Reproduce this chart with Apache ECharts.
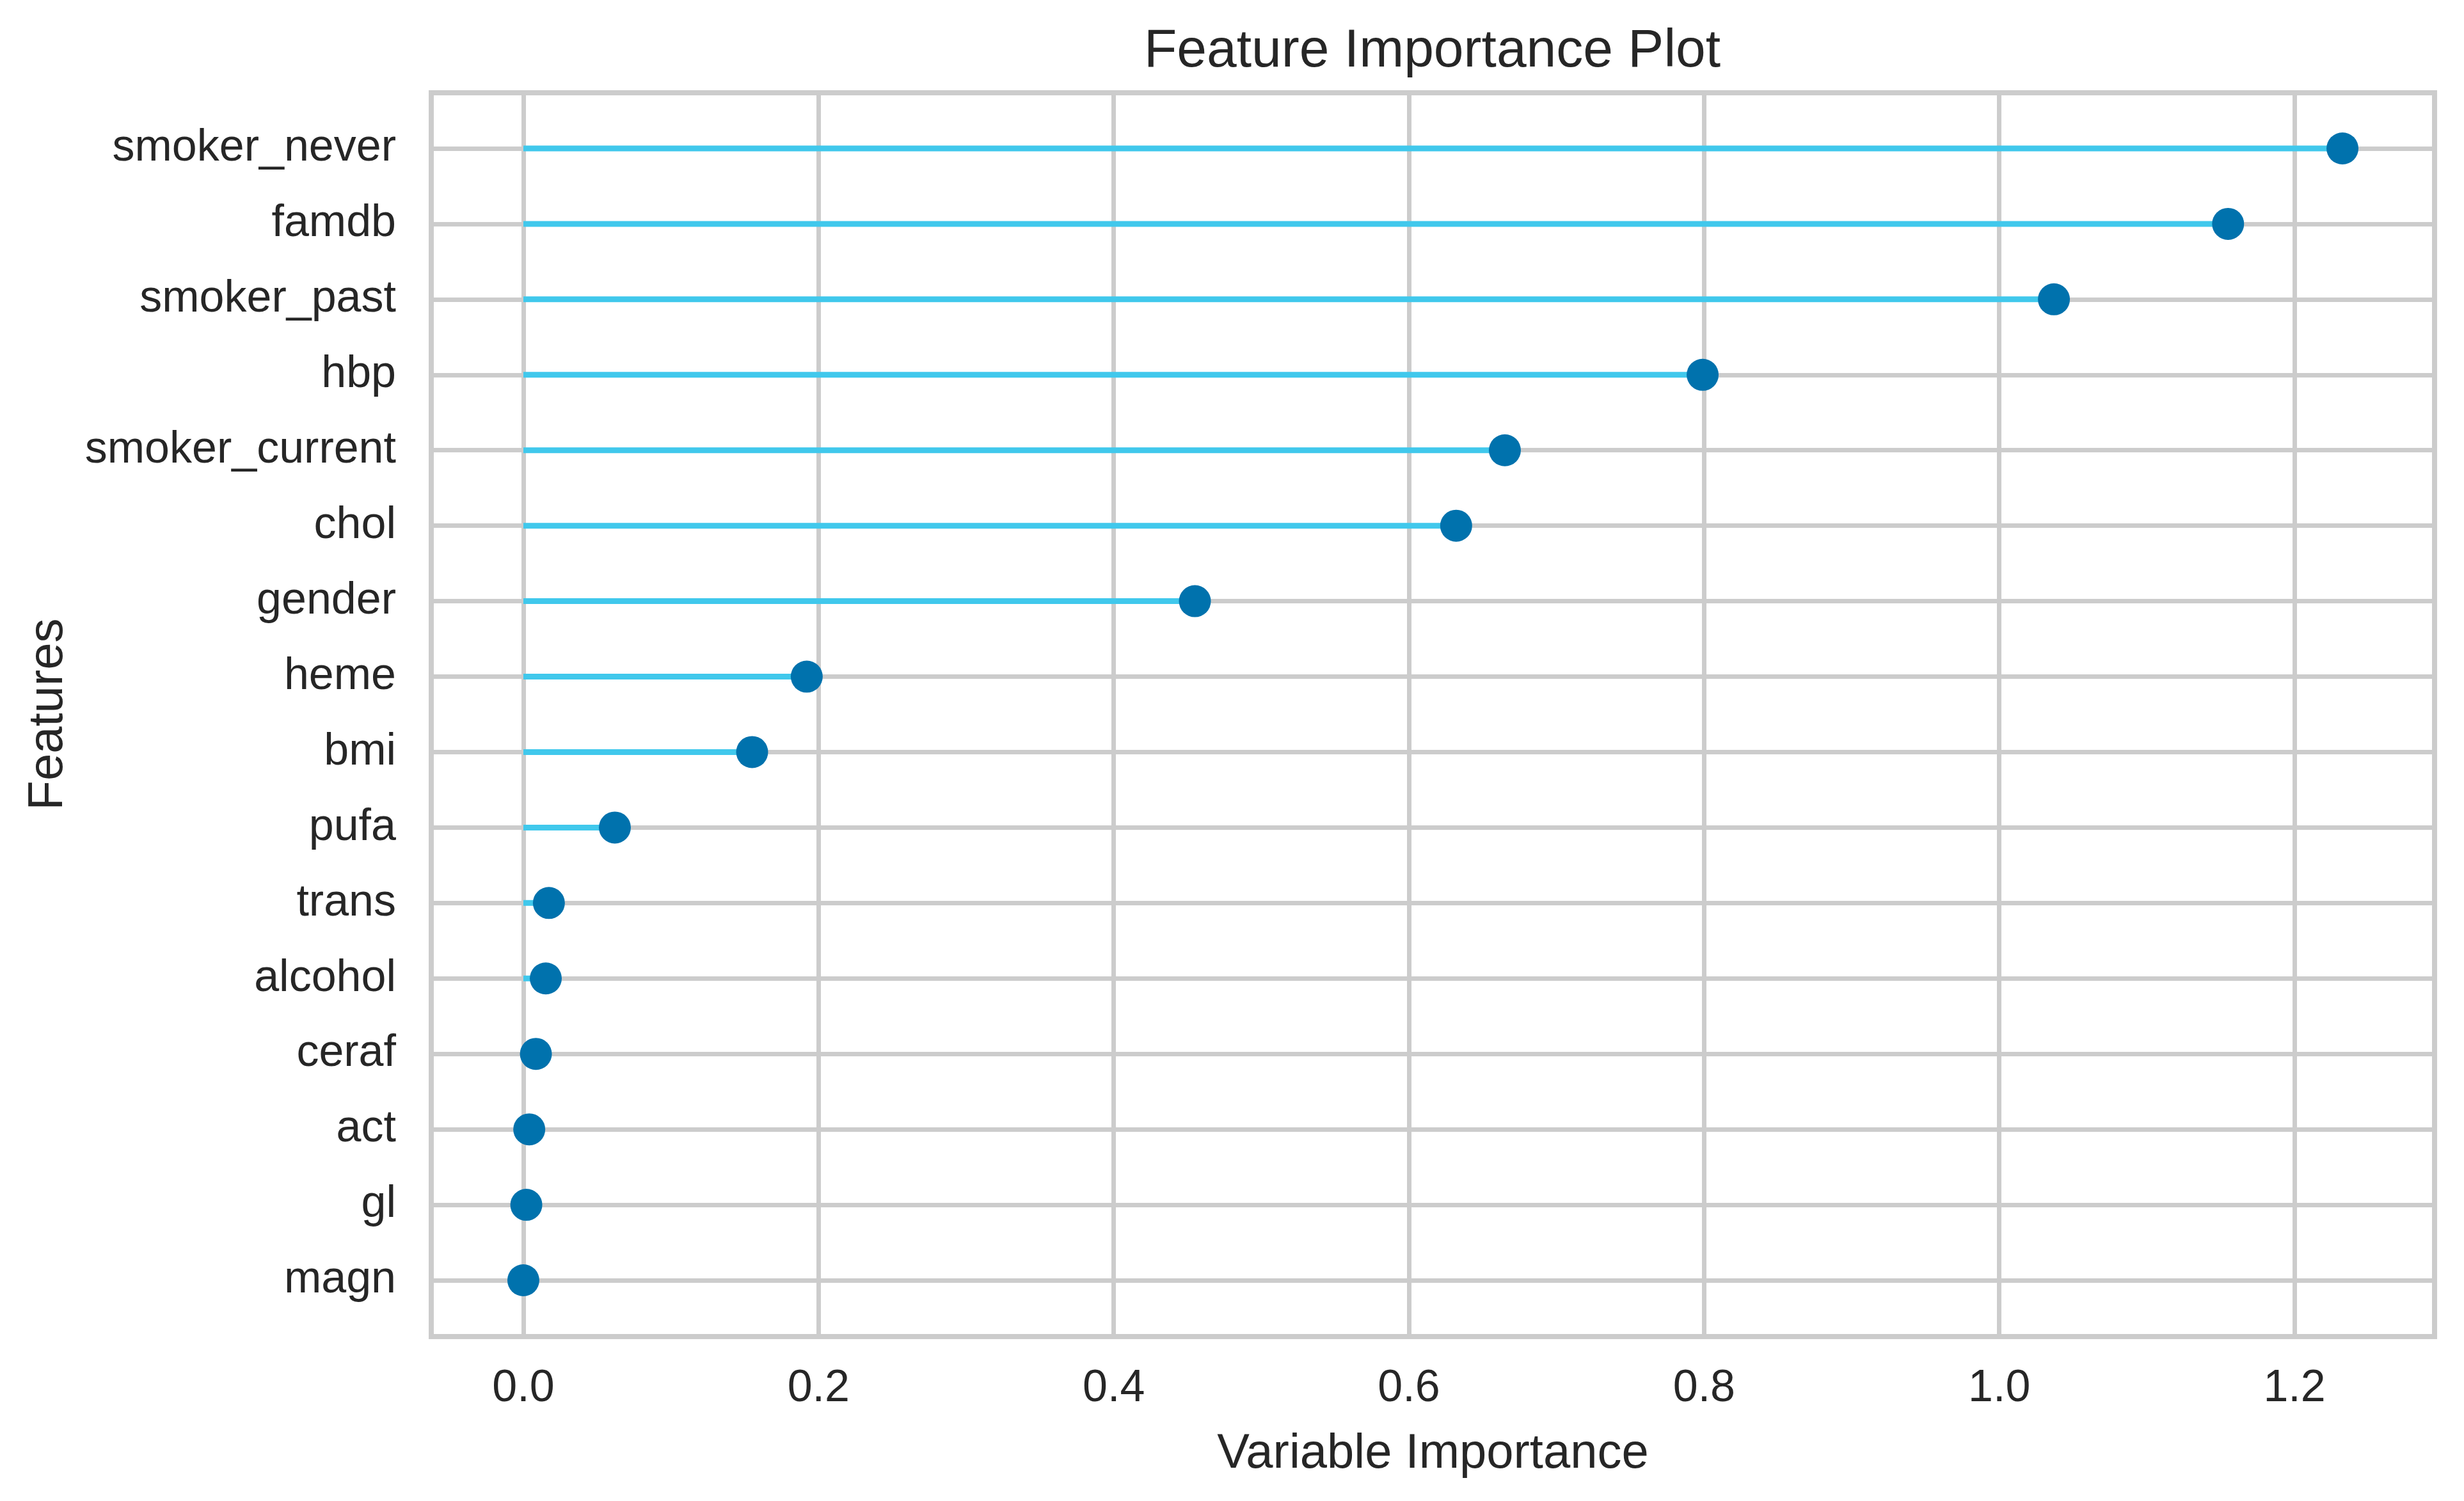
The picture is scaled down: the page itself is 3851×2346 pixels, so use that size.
<!DOCTYPE html>
<html>
<head>
<meta charset="utf-8">
<script src="https://cdn.jsdelivr.net/npm/echarts@6/dist/echarts.min.js"></script>
<style>
html,body{margin:0;padding:0;background:#fff;}
#c{width:3851px;height:2346px;}
</style>
</head>
<body>
<div id="c"></div>
<script>
const features = ["smoker_never","famdb","smoker_past","hbp","smoker_current","chol","gender","heme","bmi","pufa","trans","alcohol","ceraf","act","gl","magn"];
const importance = [1.2325,1.155,1.037,0.799,0.665,0.632,0.455,0.192,0.155,0.062,0.0173,0.0152,0.0085,0.004,0.002,0.0];
const xMin = -0.0624, xMax = 1.2949;
const titleText = "Feature Importance Plot";
const xName = "Variable Importance";
const yName = "Features";

const FONT = "'Liberation Sans', Arial, sans-serif";
const TXT = "#262626";
const GRIDC = "#cccccc";

const chart = echarts.init(document.getElementById('c'), null, {renderer:'canvas'});
chart.setOption({
  backgroundColor: '#ffffff',
  animation: false,
  textStyle: {fontFamily: FONT},
  title: {
    text: titleText, left: 1788, top: 39, padding: 0,
    textStyle: {fontFamily: FONT, fontSize: 84, fontWeight: 'normal', color: TXT}
  },
  grid: [
    {left: 674, top: 145, width: 3131, height: 1944, show: true, borderColor: GRIDC, borderWidth: 8, backgroundColor: '#ffffff'},
    {left: 674, top: 232, width: 3131, height: 1769}
  ],
  xAxis: [
    {
      type: 'value', gridIndex: 0, min: xMin, max: xMax, splitNumber: 7,
      name: xName, nameLocation: 'middle', nameGap: 146,
      nameTextStyle: {fontFamily: FONT, fontSize: 76, color: TXT},
      axisLine: {show: false}, axisTick: {show: false},
      axisLabel: {fontFamily: FONT, fontSize: 70, color: TXT, margin: 47,
        showMinLabel: false, showMaxLabel: false,
        formatter: v => v.toFixed(1)},
      splitLine: {show: true, lineStyle: {color: GRIDC, width: 7}}
    },
    {
      type: 'value', gridIndex: 1, min: xMin, max: xMax, show: false,
      splitLine: {show: false}
    }
  ],
  yAxis: [
    {type: 'value', gridIndex: 0, show: false, splitLine: {show: false}},
    {
      type: 'category', gridIndex: 1, data: features, inverse: true, boundaryGap: false,
      name: yName, nameLocation: 'middle', nameGap: 560, nameRotate: 90,
      nameTextStyle: {fontFamily: FONT, fontSize: 76, color: TXT},
      axisLine: {show: false}, axisTick: {show: false},
      axisLabel: {fontFamily: FONT, fontSize: 70, color: TXT, margin: 55, padding: [12, 0, 0, 0]},
      splitLine: {show: true, lineStyle: {color: GRIDC, width: 7}}
    }
  ],
  series: [
    {
      type: 'bar', xAxisIndex: 1, yAxisIndex: 1, barWidth: 9,
      itemStyle: {color: '#40C8EC'},
      data: importance, z: 3
    },
    {
      type: 'scatter', xAxisIndex: 1, yAxisIndex: 1, symbol: 'circle', symbolSize: 50,
      itemStyle: {color: '#0072AD', opacity: 1},
      data: importance.map((v, i) => [v, features[i]]), z: 5
    }
  ]
});
</script>
</body>
</html>
